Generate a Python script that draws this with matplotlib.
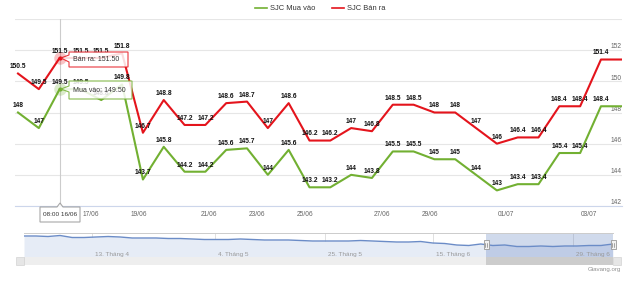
import matplotlib
matplotlib.use("Agg")
import matplotlib.pyplot as plt
from matplotlib.patches import Polygon, Rectangle
from matplotlib.lines import Line2D
import matplotlib.transforms as mtransforms

plt.rcParams['font.family'] = ['Liberation Sans', 'DejaVu Sans']

# SJC gold prices, one value per price update
ban_ra = [150.5, 149.5, 151.5, 151.5, 151.5, 151.8, 146.7, 148.8, 147.2, 147.2,
          148.6, 148.7, 147, 148.6, 146.2, 146.2, 147, 146.8, 148.5, 148.5,
          148, 148, 147, 146, 146.4, 146.4, 148.4, 148.4, 151.4, 151.4]
mua_vao = [148, 147, 149.5, 149.5, 148.8, 149.8, 143.7, 145.8, 144.2, 144.2,
           145.6, 145.7, 144, 145.6, 143.2, 143.2, 144, 143.8, 145.5, 145.5,
           145, 145, 144, 143, 143.4, 143.4, 145.4, 145.4, 148.4, 148.4]

# date labels sit between updates (ordinal axis)
date_labels = ['17/06', '19/06', '21/06', '23/06', '25/06', '27/06', '29/06', '01/07', '03/07']
date_pos = [3.51, 5.81, 9.17, 11.48, 13.78, 17.48, 19.79, 23.44, 27.43]
y_ticks = [142, 144, 146, 148, 150, 152, 154]

# navigator (longer history)
nav_values = [160, 160, 159.5, 160.5, 158.5, 158.5, 159, 159.5, 159, 158,
              158, 158, 157.5, 157.5, 157, 156.5, 156.5, 156.5, 157, 156.5,
              156, 156, 156, 155.5, 155, 155, 155, 155, 155.5, 155,
              154.5, 154, 154, 154.5, 153, 152.5, 151, 150.5, 152, 150.5,
              151, 149.5, 149.5, 150, 149.5, 150, 150, 150.5, 150.5, 152]
nav_labels = ['13. Tháng 4', '4. Tháng 5', '25. Tháng 5', '15. Tháng 6', '29. Tháng 6']
nav_label_pos = [5.66, 15.9, 25.0, 34.0, 45.7]

hover_idx = 2

GREEN = '#72b032'
RED = '#e4141c'
W, H = 640, 281


def fx(px):
    return px / W


def fy(py):
    return 1 - py / H


fig = plt.figure(figsize=(6.4, 2.81), dpi=100)

ax = fig.add_axes([fx(15), fy(206), (622 - 15) / W, (206 - 19) / H])
x = list(range(len(ban_ra)))
ax.axvline(hover_idx, color='#cccccc', lw=0.8, zorder=1)
ax.plot(x, mua_vao, color=GREEN, lw=1.5, zorder=3, solid_joinstyle='round')
ax.plot(x, ban_ra, color=RED, lw=1.5, zorder=3, solid_joinstyle='round')

for i in range(len(x) - 1):
    for vals in (ban_ra, mua_vao):
        ax.annotate(f'{vals[i]:g}', (i, vals[i]), xytext=(0, 2.2),
                    textcoords='offset points', ha='center', va='bottom',
                    fontsize=4.8, fontweight='bold', color='#111111', zorder=4)

# hover markers
for vals, c in ((ban_ra, RED), (mua_vao, GREEN)):
    ax.plot(hover_idx, vals[hover_idx], 'o', ms=9, color=c, alpha=0.25, mec='none', zorder=5)
    ax.plot(hover_idx, vals[hover_idx], 'o', ms=3, color=c, mec='none', zorder=6)

ax.set_xlim(-0.144, 29.01)
ax.set_ylim(142, 154)
ax.set_yticks(y_ticks)
ax.set_yticklabels([f'{t}' for t in y_ticks[:-1]] + [''])
ax.set_xticks(date_pos)
ax.set_xticklabels(date_labels)
ax.grid(axis='y', color='#e6e6e6', lw=0.8)
ax.set_axisbelow(True)
for s in ('top', 'left', 'right'):
    ax.spines[s].set_visible(False)
ax.spines['bottom'].set_color('#ccd6eb')
ax.spines['bottom'].set_linewidth(0.8)
ax.tick_params(axis='x', length=0, pad=3.5, labelsize=4.8, labelcolor='#666666')
ax.tick_params(axis='y', length=0, left=False, labelleft=False, labelright=True,
               pad=-8, labelsize=4.8, labelcolor='#666666')
off = mtransforms.ScaledTranslation(0, 3 / 72, fig.dpi_scale_trans)
for lab in ax.get_yticklabels():
    lab.set_horizontalalignment('left')
    lab.set_transform(lab.get_transform() + off)


def callout(pts, edge, zorder=10):
    verts = [(fx(a), fy(b)) for a, b in pts]
    p = Polygon(verts, closed=True, transform=fig.transFigure, facecolor='white',
                edgecolor=edge, lw=0.8, alpha=0.85, zorder=zorder)
    fig.add_artist(p)


# tooltips
callout([(69, 52), (128, 52), (128, 67), (69, 67), (69, 62), (61, 58), (69, 55)], RED)
fig.text(fx(73), fy(59.5), 'Bán ra: 151.50', fontsize=5, color='#333333',
         ha='left', va='center', zorder=11)
callout([(69, 81), (132, 81), (132, 99), (69, 99), (69, 92), (61, 89), (69, 86)], GREEN)
fig.text(fx(73), fy(90), 'Mua vào: 149.50', fontsize=5, color='#333333',
         ha='left', va='center', zorder=11)
callout([(40, 207), (57, 207), (60, 203), (63, 207), (80, 207), (80, 222), (40, 222)], '#999999')
fig.text(fx(60), fy(214.5), '08:00 16/06', fontsize=4.6, color='#333333',
         ha='center', va='center', zorder=11)

# legend
leg_handles = [Line2D([], [], color=GREEN, lw=1.2), Line2D([], [], color=RED, lw=1.2)]
fig.legend(leg_handles, ['SJC Mua vào', 'SJC Bán ra'], loc='center', bbox_to_anchor=(fx(320), fy(8.5)),
           ncol=2, frameon=False, fontsize=5.4, handlelength=1.6, handletextpad=0.4,
           columnspacing=2.2, labelcolor='#333333')

# navigator
nav = fig.add_axes([fx(24), fy(257), (613 - 24) / W, 24 / H])
nx = list(range(len(nav_values)))
nav.fill_between(nx, nav_values, 139, color='#e6ecf6', lw=0)
nav.plot(nx, nav_values, color='#6b8cc7', lw=1.0)
for p in nav_label_pos:
    nav.axvline(p, color='#e0e0e0', lw=0.7, zorder=0)
for p, t in zip(nav_label_pos, nav_labels):
    nav.text(p + 0.25, 141.5, t, fontsize=4.6, color='#999999', va='center', ha='left')
sel0 = (486 - 24) / 12.02
nav.axvspan(sel0, len(nav_values) - 1, color='#6685c2', alpha=0.3, lw=0)
nav.set_xlim(0, len(nav_values) - 1)
nav.set_ylim(139, 163)
nav.set_xticks([])
nav.set_yticks([])
for s in ('left', 'right', 'bottom'):
    nav.spines[s].set_visible(False)
nav.spines['top'].set_color('#cccccc')
nav.spines['top'].set_linewidth(0.7)


def rect(x0, y0, x1, y1, fc, ec='none', lw=0.6, z=12):
    r = Rectangle((fx(x0), fy(y1)), (x1 - x0) / W, (y1 - y0) / H, transform=fig.transFigure,
                  facecolor=fc, edgecolor=ec, lw=lw, zorder=z)
    fig.add_artist(r)


# navigator handles
for hx in (486, 613):
    rect(hx - 2.5, 240, hx + 2.5, 249, '#f2f2f2', '#999999')
    fig.add_artist(Line2D([fx(hx - 0.7), fx(hx - 0.7)], [fy(242.5), fy(246.5)],
                          transform=fig.transFigure, color='#666666', lw=0.4, zorder=13))
    fig.add_artist(Line2D([fx(hx + 0.7), fx(hx + 0.7)], [fy(242.5), fy(246.5)],
                          transform=fig.transFigure, color='#666666', lw=0.4, zorder=13))

# scrollbar
rect(24, 257, 613, 265, '#eeeeee', z=5)
rect(486, 257, 613, 265, '#cccccc', z=6)
rect(16, 257, 24, 265, '#e6e6e6', '#cccccc', lw=0.4, z=6)
rect(613, 257, 621, 265, '#e6e6e6', '#cccccc', lw=0.4, z=6)
fig.text(fx(20), fy(261.2), '◂', fontsize=3.5, color='#333333', ha='center', va='center',
         family=['DejaVu Sans'])
fig.text(fx(617), fy(261.2), '▸', fontsize=3.5, color='#333333', ha='center', va='center',
         family=['DejaVu Sans'])
fig.text(fx(549.5), fy(261.2), 'III', fontsize=3.6, color='#333333', ha='center', va='center')

fig.text(fx(621), fy(269.5), 'Giavang.org', fontsize=4.4, color='#909090', ha='right', va='center')

fig.savefig('out.png', dpi=100)
